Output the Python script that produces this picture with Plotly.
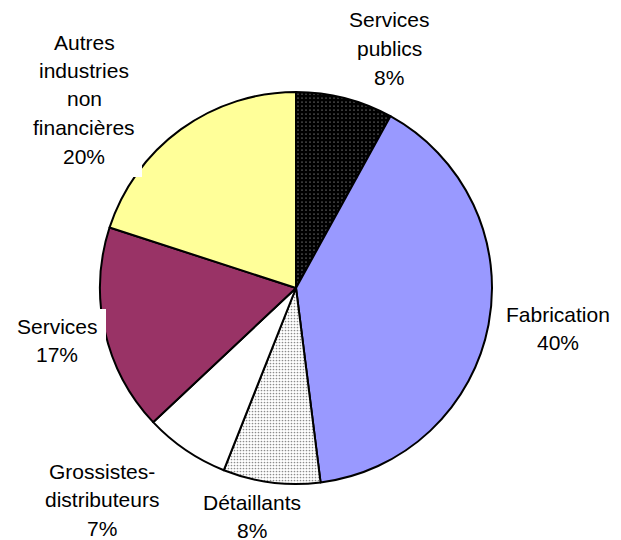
"""Répartition par secteur : camembert avec étiquettes extérieures."""

import plotly.graph_objects as go

W, H = 621, 540
MARGE_PAGE = 8  # marge par défaut du <body> dans la page écrite

secteurs = [
    "Services publics",
    "Fabrication",
    "Détaillants",
    "Grossistes-distributeurs",
    "Services",
    "Autres industries non financières",
]
parts = [8, 40, 8, 7, 17, 20]

couleurs_fond = ["#000000", "#9999FF", "#FFFFFF", "#FFFFFF", "#993366", "#FFFF99"]
motifs = [".", "", ".", "", "", ""]
couleurs_motif = ["#FFFFFF", "#000000", "#8C8C8C", "#000000", "#000000", "#000000"]
tailles_motif = [4, 4, 3, 4, 4, 4]
solidites = [0.05, 0.3, 0.25, 0.3, 0.3, 0.3]

# lignes des étiquettes (texte sur plusieurs lignes comme dans Excel)
etiquettes = [
    ["Services", "publics"],
    ["Fabrication"],
    ["Détaillants"],
    ["Grossistes-", "distributeurs"],
    ["Services"],
    ["Autres", "industries", "non", "financières"],
]
# position (px, dans la fenêtre) du centre de la première ligne
pos_etiquettes = [(389, 20), (558, 314), (252, 502), (102, 471), (57, 326), (84, 42)]
INTERLIGNE = 28.5

# centre et rayon du camembert en px (fenêtre)
CX, CY, R = 296, 288, 196

FW, FH = W - MARGE_PAGE, H - MARGE_PAGE


def px_x(x):
    return (x - MARGE_PAGE) / FW


def px_y(y):
    return 1 - (y - MARGE_PAGE) / FH


fig = go.Figure()
fig.add_trace(
    go.Pie(
        labels=secteurs,
        values=parts,
        sort=False,
        direction="clockwise",
        rotation=0,
        textinfo="none",
        hoverinfo="label+percent",
        marker=dict(
            colors=couleurs_fond,
            line=dict(color="#000000", width=2),
            pattern=dict(
                shape=motifs,
                fgcolor=couleurs_motif,
                bgcolor=couleurs_fond,
                size=tailles_motif,
                solidity=solidites,
            ),
        ),
        domain=dict(
            x=[px_x(CX - R), px_x(CX + R)],
            y=[px_y(CY + R), px_y(CY - R)],
        ),
        showlegend=False,
    )
)

# caches blancs des zones de texte (artefacts du graphique d'origine)
fig.add_shape(type="rect", xref="paper", yref="paper",
              x0=0, x1=px_x(142), y0=px_y(177), y1=1,
              fillcolor="white", line=dict(width=0), layer="above")
fig.add_shape(type="rect", xref="paper", yref="paper",
              x0=0, x1=px_x(106), y0=px_y(372), y1=px_y(309),
              fillcolor="white", line=dict(width=0), layer="above")

total = sum(parts)
for lignes, pct, (px, py) in zip(etiquettes, parts, pos_etiquettes):
    lignes = lignes + [f"{round(100 * pct / total)}%"]
    for k, txt in enumerate(lignes):
        fig.add_annotation(
            x=px_x(px),
            y=px_y(py + k * INTERLIGNE),
            xref="paper",
            yref="paper",
            text=txt,
            showarrow=False,
            xanchor="center",
            yanchor="middle",
            font=dict(family="Liberation Sans, Arial", size=21, color="#000000"),
        )

fig.update_layout(
    width=FW,
    height=FH,
    margin=dict(l=0, r=0, t=0, b=0),
    paper_bgcolor="white",
    plot_bgcolor="white",
)

fig.write_html("out.html")
